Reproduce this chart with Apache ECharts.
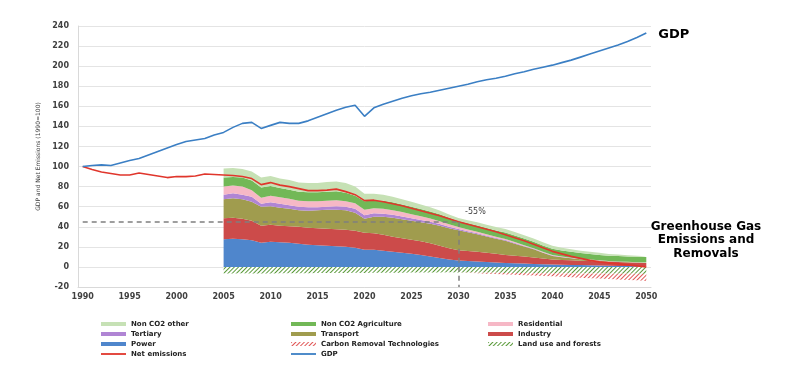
<!DOCTYPE html>
<html><head><meta charset="utf-8">
<script src="https://cdn.jsdelivr.net/npm/echarts@6/dist/echarts.min.js"></script>
<style>html,body{margin:0;padding:0;background:#fff}#c{width:800px;height:368px}</style>
</head><body><div id="c"></div>
<script>
const years = ['1990','1991','1992','1993','1994','1995','1996','1997','1998','1999',
'2000','2001','2002','2003','2004','2005','2006','2007','2008','2009',
'2010','2011','2012','2013','2014','2015','2016','2017','2018','2019',
'2020','2021','2022','2023','2024','2025','2026','2027','2028','2029',
'2030','2031','2032','2033','2034','2035','2036','2037','2038','2039',
'2040','2041','2042','2043','2044','2045','2046','2047','2048','2049','2050'];

const gdp = [100,101,101.7,101,103.5,106,108,111.5,115,118.5,
122,125,126.5,128,131.5,134,139,143,144,138,
141,144,143,143,145.5,149,152.5,156,159,161,
150,158.5,162,165,168,170.5,172.5,174,176,178,
180,182,184.5,186.5,188,190,192.5,194.5,197,199,
201,203.5,206,209,212,215,218,221,224.5,228.5,233];

const netEmissions = [100,97,94.5,93,91.5,91.5,93.5,92,90.5,89,
90,90,90.5,92.5,92,91.5,91,90,88,82,
84,81.5,80,78,76,76,76.5,77.5,75,72,
66,66.5,65,63,61,58.5,56,53.5,51,48,
45,42.5,40,37.5,35,32,29,26,22.5,19,
15.5,13,10.5,8.5,6.5,5,4,3,2,1,0];

// sector values from 2005 to 2050
const firstSectorYear = '2005';
const power = [27.5,28,27.5,26.5,24,25,24.5,24,23,22,21.5,21,20.5,20,19,17,17,16,15,14,13,12,10.5,9,7.5,6.5,6,5.5,5,4.5,4,3.7,3.3,3,2.7,2.5,2.2,2,1.8,1.6,1.5,1.2,1,0.8,0.6,0.5];
const industry = [21,21,20.5,19.5,17,17,16.5,16.5,17,17,17,17,17,17,17,17,16.5,16,15,14.5,14,13.5,13,12,11,10,9.8,9.5,9,8.5,8,7.5,7,6.5,5.8,5,4.8,4.6,4.4,4.2,4,3.9,3.8,3.7,3.6,3.5];
const transport = [19,19.5,19.5,19,19,18.5,18,17.5,16.5,17,18,19,19.5,19.5,18,14,16.5,18,19,19,19,19,19.5,20,20,20,18.7,17.5,16.2,15,14,12,10,8,5.5,3.5,2.6,2,1.4,1,0.7,0.5,0.4,0.3,0.2,0.2];
const tertiary = [4.5,5,4.5,5,3,4,4,3.5,3.5,3.5,3,3,3.5,3.5,4,3.5,3.5,3,3,2.8,2.5,2.3,2,1.8,1.5,1.2,1.1,1,0.9,0.8,0.8,0.7,0.6,0.5,0.4,0.3,0.3,0.2,0.2,0.2,0.2,0.1,0.1,0.1,0.1,0.1];
const residential = [8,7.5,8,6.5,6,6.5,6.5,6.5,6,6,6,6,6,5.5,5.5,5.5,5,5,4.5,4.5,4,3.6,3.2,2.8,2.4,2,1.8,1.6,1.4,1.2,1,0.9,0.8,0.7,0.6,0.5,0.4,0.4,0.3,0.3,0.3,0.2,0.2,0.2,0.1,0.1];
const nonCO2Agriculture = [9,8.5,9,9.5,10,9.5,9,9,9,9,9,9,9,8.5,7.5,8.5,8,8,8,7.5,7.5,7.3,7,6.8,6.5,6,6,6.2,6.3,6.4,6.5,6.5,6.6,6.5,6.4,6.3,6.1,5.9,5.7,5.5,5.3,5.3,5.4,5.4,5.5,5.5];
const nonCO2Other = [9,9,8.5,9,10,10,9.5,9.5,9,9,9,9.5,9.5,9.5,9,7.5,6.5,6,5.5,5,5,4.6,4.2,3.8,3.4,3,3,3.1,3.2,3.3,3.5,3.4,3.3,3.2,3.1,3,2.8,2.6,2.4,2.2,2,1.7,1.5,1.2,1,0.8];
const landUse = [-6.5,-6.5,-6.4,-6.5,-6.6,-6.5,-6.3,-6.3,-6.2,-6.2,-6,-6.1,-6,-6,-5.9,-6,-5.8,-5.8,-5.7,-5.7,-5.6,-5.6,-5.5,-5.5,-5.4,-5.5,-5.6,-5.7,-5.8,-5.9,-6,-6,-6.1,-6.2,-6.3,-6.4,-6.4,-6.5,-6.5,-6.6,-6.6,-6.7,-6.7,-6.8,-6.8,-7];
const carbonRemoval = [0,0,0,0,0,0,0,0,0,0,0,0,0,0,0,0,0,0,0,0,0,0,0,0,0,0,-0.3,-0.6,-0.9,-1.2,-1.5,-1.8,-2.1,-2.4,-2.7,-3,-3.4,-3.8,-4.2,-4.6,-5,-5.4,-5.8,-6.2,-6.6,-7];

const targetYear = '2030';
const targetValue = 45;
const targetLabel = '-55%';

const offset = years.indexOf(firstSectorYear);
const pad = arr => new Array(offset).fill(null).concat(arr);

const FONT = 'DejaVu Sans';
const LINE_ICON = 'path://M0,0L25,0L25,1.8L0,1.8Z';

function area(name, data, color) {
  return { name, type: 'line', stack: 'ghg', data: pad(data), symbol: 'none', silent: true,
    color: color, lineStyle: { width: 0 }, areaStyle: { color: color, opacity: 1 }, z: 1 };
}
function hatch(name, data, color) {
  const decal = { symbol: 'rect', symbolSize: 1, color: color, dashArrayX: [1, 0], dashArrayY: [1, 1.6], rotation: -Math.PI / 4 };
  return { name, type: 'line', stack: 'ghg', data: pad(data), symbol: 'none', silent: true,
    color: '#ffffff', lineStyle: { width: 0, decal: decal }, itemStyle: { decal: decal },
    areaStyle: { color: '#ffffff', opacity: 1 }, z: 1 };
}

const legendCommon = {
  orient: 'vertical', selectedMode: false, itemWidth: 25, itemHeight: 4, itemGap: 2, padding: 0,
  textStyle: { fontFamily: FONT, fontWeight: 'bold', fontSize: 7, lineHeight: 8, color: '#222' }
};

const chart = echarts.init(document.getElementById('c'), null, { renderer: 'canvas' });
chart.setOption({
  backgroundColor: '#ffffff',
  animation: false,
  grid: { left: 78, right: 149, top: 26, bottom: 81 },
  legend: [
    Object.assign({}, legendCommon, { left: 101, top: 320, data: [
      { name: 'Non CO2 other', icon: 'rect' }, { name: 'Tertiary', icon: 'rect' },
      { name: 'Power', icon: 'rect' }, { name: 'Net emissions', icon: LINE_ICON }] }),
    Object.assign({}, legendCommon, { left: 291, top: 320, data: [
      { name: 'Non CO2 Agriculture', icon: 'rect' }, { name: 'Transport', icon: 'rect' },
      { name: 'Carbon Removal Technologies', icon: 'rect' }, { name: 'GDP', icon: LINE_ICON }] }),
    Object.assign({}, legendCommon, { left: 488, top: 320, data: [
      { name: 'Residential', icon: 'rect' }, { name: 'Industry', icon: 'rect' },
      { name: 'Land use and forests', icon: 'rect' }] })
  ],
  xAxis: {
    type: 'category', data: years, boundaryGap: true,
    axisLine: { onZero: false, lineStyle: { color: '#d9d9d9' } },
    axisTick: { show: false },
    axisLabel: { interval: 4, margin: 6, fontFamily: FONT, fontWeight: 'bold', fontSize: 8, color: '#404040' },
    splitLine: { show: false }
  },
  yAxis: {
    type: 'value', min: -20, max: 240, interval: 20,
    name: 'GDP and Net Emissions (1990=100)', nameLocation: 'middle', nameGap: 35, nameRotate: 90,
    nameTextStyle: { fontFamily: FONT, fontSize: 6, color: '#404040' },
    axisLine: { show: true, lineStyle: { color: '#d9d9d9' } },
    axisTick: { show: false },
    axisLabel: { margin: 9, fontFamily: FONT, fontWeight: 'bold', fontSize: 8, color: '#404040' },
    splitLine: { lineStyle: { color: '#e4e4e4', width: 1 } }
  },
  series: [
    area('Power', power, '#4f86cc'),
    area('Industry', industry, '#cc4b4a'),
    area('Transport', transport, '#a09c4e'),
    area('Tertiary', tertiary, '#b085d4'),
    area('Residential', residential, '#f6b8c6'),
    area('Non CO2 Agriculture', nonCO2Agriculture, '#72b857'),
    area('Non CO2 other', nonCO2Other, '#c6e1b5'),
    hatch('Land use and forests', landUse, '#5a9a3a'),
    hatch('Carbon Removal Technologies', carbonRemoval, '#e05555'),
    {
      name: 'Net emissions', type: 'line', data: netEmissions, symbol: 'none', z: 4,
      color: '#e0362c', lineStyle: { color: '#e0362c', width: 1.6 },
      markLine: {
        silent: true, symbol: 'none', label: { show: false },
        lineStyle: { color: '#7f7f7f', type: [5, 4], width: 1.5 },
        data: [
          [{ coord: [years[0], targetValue] }, { coord: [targetYear, targetValue] }],
          [{ coord: [targetYear, targetValue] }, { coord: [targetYear, -20] }]
        ]
      },
      markPoint: {
        silent: true, symbol: 'circle', symbolSize: 0,
        label: { show: true, formatter: targetLabel, position: 'inside', offset: [17, -10],
          fontFamily: FONT, fontSize: 8, color: '#404040' },
        data: [{ coord: [targetYear, targetValue] }]
      }
    },
    {
      name: 'GDP', type: 'line', data: gdp, symbol: 'none', z: 4,
      color: '#3b7fc4', lineStyle: { color: '#3b7fc4', width: 1.6 },
      endLabel: { show: true, formatter: 'GDP', distance: 12, offset: [0, 2],
        fontFamily: FONT, fontWeight: 'bold', fontSize: 13, color: '#000' }
    }
  ],
  graphic: [{
    type: 'text', x: 706, y: 240, silent: true,
    style: { text: 'Greenhouse Gas\nEmissions and\nRemovals', align: 'center', verticalAlign: 'middle',
      font: 'bold 12px "DejaVu Sans"', lineHeight: 13.5, fill: '#000' }
  }]
});
</script></body></html>
